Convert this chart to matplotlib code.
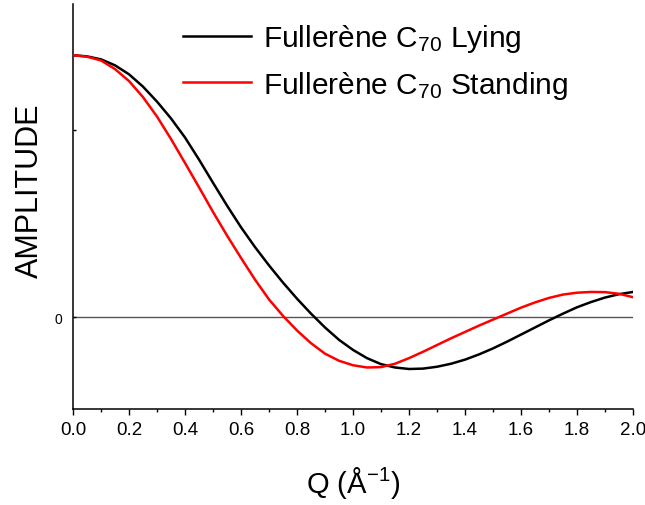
import numpy as np
import matplotlib
matplotlib.use("Agg")
import matplotlib.pyplot as plt
from matplotlib.ticker import MultipleLocator

plt.rcParams["font.family"] = ["Liberation Sans", "DejaVu Sans"]
plt.rcParams["mathtext.fontset"] = "custom"
plt.rcParams["mathtext.rm"] = "Liberation Sans"
plt.rcParams["mathtext.it"] = "Liberation Sans:italic"

# ---- data ----
q = [0.00, 0.05, 0.10, 0.15, 0.20, 0.25, 0.30, 0.35, 0.40, 0.45, 0.50,
     0.55, 0.60, 0.65, 0.70, 0.75, 0.80, 0.85, 0.90, 0.95, 1.00,
     1.05, 1.10, 1.15, 1.20, 1.25, 1.30, 1.35, 1.40, 1.45, 1.50,
     1.55, 1.60, 1.65, 1.70, 1.75, 1.80, 1.85, 1.90, 1.95, 2.00]
amp_lying = [7.00, 6.97, 6.89, 6.73, 6.49, 6.16, 5.76, 5.31, 4.80, 4.21, 3.59,
             2.98, 2.40, 1.87, 1.38, 0.92, 0.49, 0.09, -0.28, -0.61, -0.88,
             -1.10, -1.26, -1.35, -1.39, -1.38, -1.33, -1.25, -1.14, -1.00, -0.84,
             -0.66, -0.47, -0.28, -0.09, 0.09, 0.26, 0.40, 0.52, 0.61, 0.67]
amp_standing = [7.00, 6.96, 6.86, 6.63, 6.31, 5.88, 5.36, 4.76, 4.12, 3.47, 2.81,
                2.18, 1.58, 1.00, 0.47, 0.03, -0.36, -0.70, -0.98, -1.17, -1.29,
                -1.35, -1.34, -1.25, -1.10, -0.93, -0.75, -0.57, -0.40, -0.23, -0.07,
                0.09, 0.25, 0.39, 0.51, 0.60, 0.65, 0.67, 0.665, 0.62, 0.53]
labels = ["Fullerène C$_{70}$ Lying", "Fullerène C$_{70}$ Standing"]

# ---- plot ----
fig = plt.figure(figsize=(6.45, 5.06), dpi=100)
ax = fig.add_axes([73 / 645, 1 - 410 / 506, 560 / 645, 405 / 506])

ax.axhline(0, color="#555555", lw=1.0, zorder=1)
ax.plot(q, amp_lying, color="black", lw=1.8, label=labels[0], zorder=3)
ax.plot(q, amp_standing, color="red", lw=1.8, label=labels[1], zorder=3)

ax.set_xlim(0, 2.0)
ax.set_ylim(-2.46, 8.37)

ax.xaxis.set_major_locator(MultipleLocator(0.2))
ax.xaxis.set_minor_locator(MultipleLocator(0.1))
ax.xaxis.set_major_formatter(plt.FuncFormatter(lambda v, p: f"{v:.1f}"))
ax.tick_params(axis="x", which="major", direction="out", length=4.5, width=1,
               labelsize=13.5, pad=4)
ax.tick_params(axis="x", which="minor", direction="out", length=2.5, width=1)

ax.set_yticks([0, 5])
ax.set_yticklabels(["0", ""])
ax.tick_params(axis="y", direction="in", length=2.5, width=1, labelsize=10, pad=8)

for s in ["top", "right"]:
    ax.spines[s].set_visible(False)
for s in ["left", "bottom"]:
    ax.spines[s].set_linewidth(1.1)

ax.set_xlabel("Q (Å$^{-1}$)", fontsize=21, labelpad=19)
ax.set_ylabel("AMPLITUDE", fontsize=22)
ax.yaxis.set_label_coords(-0.05, 0.541)

ax.legend(loc="upper left", bbox_to_anchor=(0.196, 0.955), frameon=False,
          fontsize=21.5, handlelength=2.3, handletextpad=0.38, labelspacing=0.48,
          borderpad=0, borderaxespad=0)

plt.savefig("out.png", dpi=100)
